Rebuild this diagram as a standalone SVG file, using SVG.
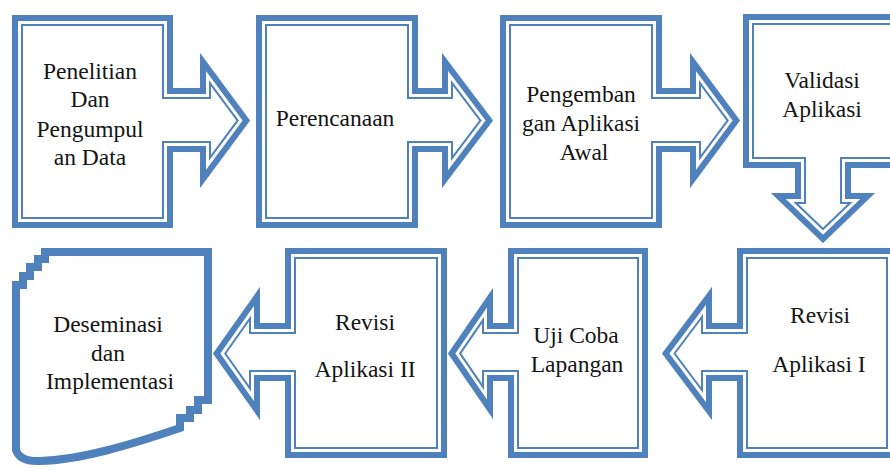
<svg xmlns="http://www.w3.org/2000/svg" xmlns:xlink="http://www.w3.org/1999/xlink" width="890" height="471" viewBox="0 0 890 471">
<style>
.l1{fill:#fff;stroke:#4F81BD;stroke-width:22;stroke-linejoin:miter;stroke-miterlimit:10}
.l2{fill:none;stroke:#fff;stroke-width:18;stroke-linejoin:miter;stroke-miterlimit:10}
.l3{fill:none;stroke:#4F81BD;stroke-width:12;stroke-linejoin:miter;stroke-miterlimit:10}
.t{font-family:"Liberation Serif",serif;font-size:23.5px;fill:#151515;text-anchor:middle}
.w{fill:#fff;stroke:#4F81BD;stroke-width:8;stroke-linejoin:miter}
</style>
<defs>
<path id="p1" d="M12,15 H173 V88 H200 V53 L250,120.5 L200,188 V152 H173 V228 H12 Z"/>
<path id="p2" d="M256,15 H418 V88 H442 V53 L493,120.5 L442,188 V152 H418 V228 H256 Z"/>
<path id="p3" d="M500,15 H662 V88 H690 V53 L740,120.5 L690,188 V152 H662 V228 H500 Z"/>
<path id="p4" d="M743,14 H903 V168 H851 V193 H875 L823,243 L771,193 H795 V168 H743 Z"/>
<path id="p6" d="M447,248 V458 H285 V381 H260 V420 L213,353.5 L260,287 V323 H285 V248 Z"/>
<path id="p7" d="M648,248 V458 H508 V381 H493 V419 L448,353.5 L493,288 V323 H508 V248 Z"/>
<path id="p8" d="M897,248 V458 H737 V381 H712 V420 L662,353.5 L712,287 V323 H737 V248 Z"/>
<clipPath id="c1"><use href="#p1"/></clipPath>
<clipPath id="c2"><use href="#p2"/></clipPath>
<clipPath id="c3"><use href="#p3"/></clipPath>
<clipPath id="c4"><use href="#p4"/></clipPath>
<clipPath id="c6"><use href="#p6"/></clipPath>
<clipPath id="c7"><use href="#p7"/></clipPath>
<clipPath id="c8"><use href="#p8"/></clipPath>
</defs>
<rect width="890" height="471" fill="#fff"/>

<g id="n1">
<g clip-path="url(#c1)"><use href="#p1" class="l1"/><use href="#p1" class="l2"/><use href="#p1" class="l3"/></g>
<text class="t" x="90" y="79">Penelitian</text>
<text class="t" x="90" y="107">Dan</text>
<text class="t" x="90" y="137">Pengumpul</text>
<text class="t" x="90" y="165">an Data</text>
</g>

<g id="n2">
<g clip-path="url(#c2)"><use href="#p2" class="l1"/><use href="#p2" class="l2"/><use href="#p2" class="l3"/></g>
<text class="t" x="335" y="126">Perencanaan</text>
</g>

<g id="n3">
<g clip-path="url(#c3)"><use href="#p3" class="l1"/><use href="#p3" class="l2"/><use href="#p3" class="l3"/></g>
<text class="t" x="581" y="102">Pengemban</text>
<text class="t" x="581" y="131">gan Aplikasi</text>
<text class="t" x="584" y="160">Awal</text>
</g>

<g id="n4">
<g clip-path="url(#c4)"><use href="#p4" class="l1"/><use href="#p4" class="l2"/><use href="#p4" class="l3"/></g>
<text class="t" x="822" y="88">Validasi</text>
<text class="t" x="822" y="117">Aplikasi</text>
</g>

<g id="n5">
<path class="w" d="M208,252 H45 V259 H38 V267 H30 V276 H23 V285 H16 V450 Q20,462 40,461 C80,460 130,445 180,428 V418 H190 V410 H198 V400 H208 Z"/>
<text class="t" x="108" y="332">Deseminasi</text>
<text class="t" x="108" y="361">dan</text>
<text class="t" x="110" y="389">Implementasi</text>
</g>

<g id="n6">
<g clip-path="url(#c6)"><use href="#p6" class="l1"/><use href="#p6" class="l2"/><use href="#p6" class="l3"/></g>
<text class="t" x="365" y="330">Revisi</text>
<text class="t" x="365" y="377">Aplikasi II</text>
</g>

<g id="n7">
<g clip-path="url(#c7)"><use href="#p7" class="l1"/><use href="#p7" class="l2"/><use href="#p7" class="l3"/></g>
<text class="t" x="576" y="343">Uji Coba</text>
<text class="t" x="577" y="372">Lapangan</text>
</g>

<g id="n8">
<g clip-path="url(#c8)"><use href="#p8" class="l1"/><use href="#p8" class="l2"/><use href="#p8" class="l3"/></g>
<text class="t" x="820" y="323">Revisi</text>
<text class="t" x="819" y="372">Aplikasi I</text>
</g>
</svg>
